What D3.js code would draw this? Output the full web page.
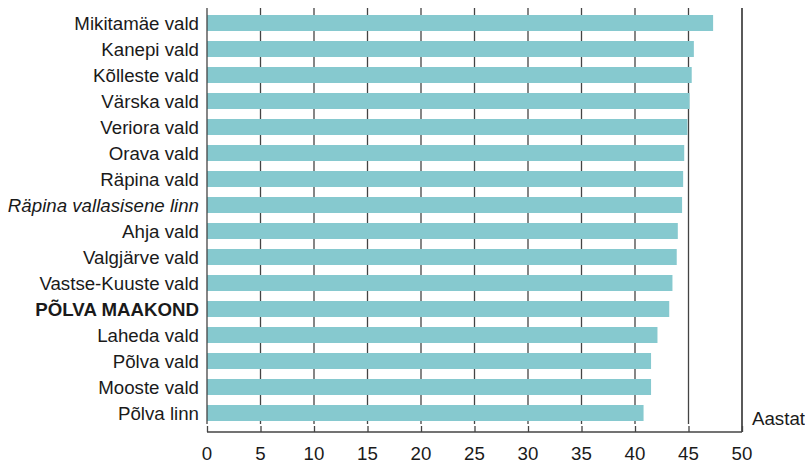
<!DOCTYPE html>
<html><head><meta charset="utf-8">
<script src="https://cdn.jsdelivr.net/npm/d3@7"></script>
<style>body{margin:0;background:#fff;}svg{display:block;}</style>
</head><body><svg id="c" width="805" height="463"></svg>
<script>
const categories = ["Mikitamäe vald","Kanepi vald","Kõlleste vald","Värska vald","Veriora vald","Orava vald","Räpina vald","Räpina vallasisene linn","Ahja vald","Valgjärve vald","Vastse-Kuuste vald","PÕLVA MAAKOND","Laheda vald","Põlva vald","Mooste vald","Põlva linn"];
const values = [47.3,45.5,45.3,45.1,44.9,44.6,44.5,44.4,44.0,43.9,43.5,43.2,42.1,41.5,41.5,40.8];
const ticks = [0,5,10,15,20,25,30,35,40,45,50];
const unitLabel = "Aastat";

const svg = d3.select("#c");
const font = "'Liberation Sans', Arial, sans-serif";
const fs = 18.7;
const x = d3.scaleLinear().domain([0,50]).range([207,742]);
const y = d3.scaleBand().domain(categories).range([10,426]).paddingInner(10/26).paddingOuter(5/26);

// gridlines
svg.append("g").selectAll("line").data(ticks.filter(t=>t>0 && t<50)).join("line")
  .attr("x1",d=>x(d)).attr("x2",d=>x(d)).attr("y1",8).attr("y2",424)
  .attr("stroke","#444").attr("stroke-width",1.3);

// bars
svg.append("g").selectAll("rect").data(values).join("rect")
  .attr("x",x(0)).attr("y",(d,i)=>y(categories[i]))
  .attr("width",d=>x(d)-x(0)).attr("height",y.bandwidth())
  .attr("fill","#86c9cf");

// left axis line
svg.append("line").attr("x1",x(0)).attr("x2",x(0)).attr("y1",8).attr("y2",424)
  .attr("stroke","#444").attr("stroke-width",1.3);
// right border at 50
svg.append("line").attr("x1",x(50)).attr("x2",x(50)).attr("y1",8).attr("y2",432)
  .attr("stroke","#000").attr("stroke-width",1.3);

// x axis
const xa = svg.append("g").attr("transform","translate(0,432)")
  .call(d3.axisTop(x).tickValues(ticks).tickSize(6).tickFormat(""));
xa.select(".domain").attr("stroke","#444").attr("stroke-width",1.3).attr("d",`M${x(0)},0H${x(50)}`);
xa.selectAll(".tick line").attr("stroke","#444").attr("stroke-width",1.3);
svg.append("g").selectAll("text").data(ticks).join("text")
  .attr("x",d=>x(d)).attr("y",460).attr("text-anchor","middle")
  .attr("font-family",font).attr("font-size",fs).attr("fill","#1a1a1a").text(d=>d);

// category labels
svg.append("g").selectAll("text").data(categories).join("text")
  .attr("x",199).attr("y",d=>y(d)+y.bandwidth()/2).attr("dy","0.36em")
  .attr("text-anchor","end").attr("font-family",font).attr("font-size",fs)
  .attr("fill","#1a1a1a")
  .attr("font-weight",d=>d==="PÕLVA MAAKOND"?"bold":"normal")
  .attr("font-style",d=>d==="Räpina vallasisene linn"?"italic":"normal")
  .text(d=>d);

svg.append("text").attr("x",752).attr("y",425).attr("font-family",font).attr("font-size",fs)
  .attr("fill","#1a1a1a").text(unitLabel);
</script></body></html>
